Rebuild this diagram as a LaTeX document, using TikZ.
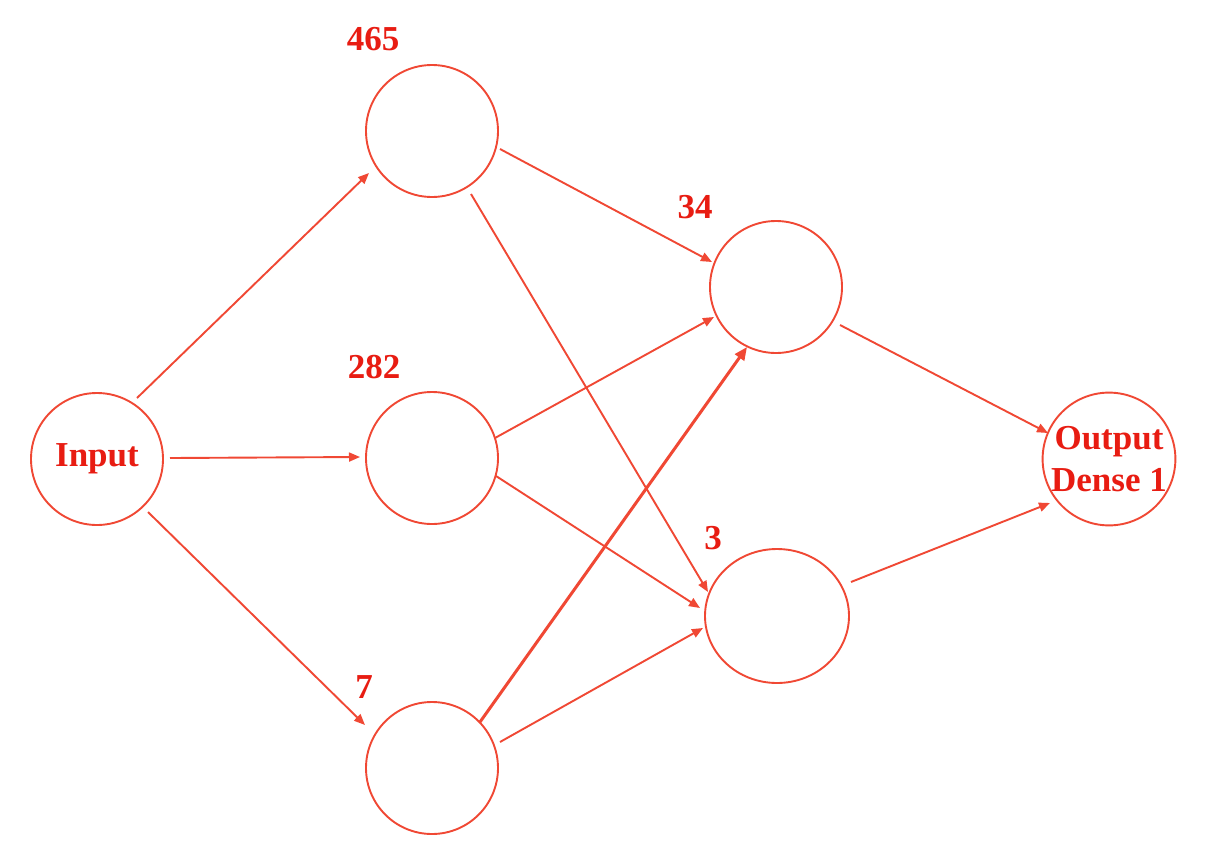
\documentclass[tikz,border=0pt]{standalone}
\usepackage{fontspec}
\setmainfont{Liberation Serif}
\usetikzlibrary{arrows.meta,shapes.geometric}
\definecolor{linecol}{RGB}{240,72,52}
\definecolor{txtcol}{RGB}{232,28,18}
\begin{document}
\begin{tikzpicture}[x=1pt,y=-1pt,
  neuron/.style={circle,draw=linecol,line width=1.9pt,minimum size=132pt,inner sep=0pt,
    text=txtcol,font=\fontsize{35}{38}\selectfont\bfseries,align=center},
  lbl/.style={text=txtcol,font=\fontsize{35}{38}\selectfont\bfseries,inner sep=0pt},
  arr/.style={draw=linecol,line width=1.9pt,-{Triangle[length=11pt,width=9pt]}},
  thickarr/.style={draw=linecol,line width=3pt,-{Triangle[length=13pt,width=11pt]}}]
\useasboundingbox[fill=white] (0,0) rectangle (1232,852);
% nodes
\node[neuron] (in) at (97,459) {\raisebox{-4pt}{Input}};
\node[neuron] (h1) at (432,131) {};
\node[neuron] (h2) at (432,458) {};
\node[neuron] (h3) at (432,768) {};
\node[neuron] (a) at (776,287) {};
\node[ellipse,draw=linecol,line width=1.9pt,minimum width=144pt,minimum height=134pt,inner sep=0pt] (b) at (777,616) {};
\node[neuron] (out) at (1109,459) {Output\\[4pt]Dense 1};
% labels
\node[lbl] (l465) at (373,39) {465};
\node[lbl] (l282) at (374,367) {282};
\node[lbl] (l7) at (364,687) {7};
\node[lbl] (l34) at (695,207) {34};
\node[lbl] (l3) at (713,538) {3};
% connectors
\draw[arr] ([shift={(40,-61)}]in.center) -- ([shift={(-63,42)}]h1.center);
\draw[arr] ([shift={(73,-1)}]in.center) -- ([shift={(-72,-1)}]h2.center);
\draw[arr] ([shift={(51,53)}]in.center) -- ([shift={(-67,-43)}]h3.center);
\draw[arr] ([shift={(68,18)}]h1.center) -- ([shift={(-64,-25)}]a.center);
\draw[arr] ([shift={(39,63)}]h1.center) -- ([shift={(-69,-24)}]b.center);
\draw[arr] ([shift={(63,-20)}]h2.center) -- ([shift={(-62,30)}]a.center);
\draw[arr] ([shift={(64,18)}]h2.center) -- ([shift={(-77,-8)}]b.center);
\draw[thickarr] ([shift={(48,-46)}]h3.center) -- ([shift={(-29,60)}]a.center);
\draw[arr] ([shift={(68,-26)}]h3.center) -- ([shift={(-74,12)}]b.center);
\draw[arr] ([shift={(64,38)}]a.center) -- ([shift={(-61,-26)}]out.center);
\draw[arr] ([shift={(74,-34)}]b.center) -- ([shift={(-59,44)}]out.center);
\end{tikzpicture}
\end{document}
